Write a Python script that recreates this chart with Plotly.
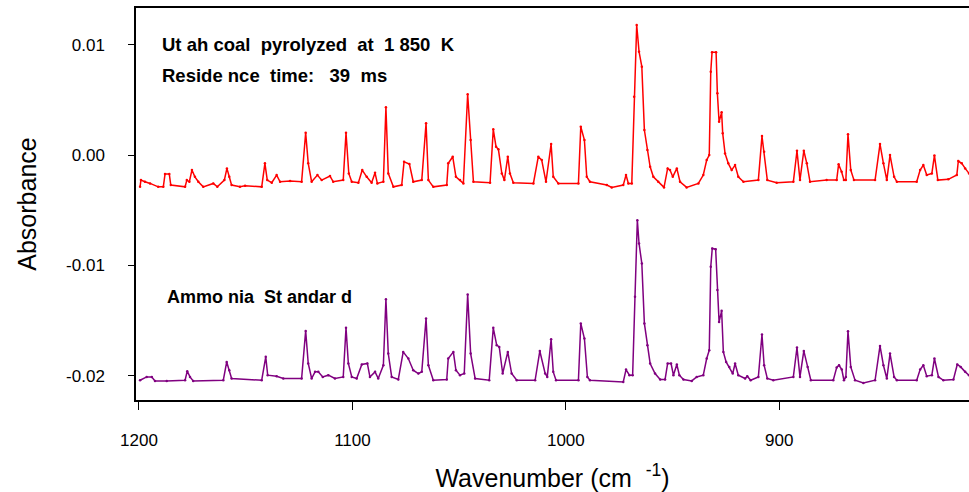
import plotly.graph_objects as go

# ---- Data ----
# Utah coal pyrolyzed at 1850 K (red trace): wavenumber (cm-1), absorbance
coal_wn = [1199.5, 1199.1, 1197.2, 1194.8, 1191.0, 1188.6, 1187.8, 1185.8, 1185.1, 1178.4,
           1177.6, 1176.4, 1175.2, 1173.8, 1172.2, 1169.9, 1165.2, 1163.3, 1160.0, 1158.8,
           1157.7, 1156.6, 1152.7, 1150.3, 1142.5, 1141.0, 1139.9, 1137.8, 1135.5, 1133.9,
           1129.2, 1123.8, 1121.9, 1120.7, 1119.1, 1116.4, 1114.4, 1110.5, 1109.0, 1104.3,
           1103.0, 1101.7, 1100.3, 1097.2, 1095.4, 1093.3, 1091.0, 1089.4, 1088.3, 1085.5,
           1084.3, 1083.2, 1080.8, 1076.9, 1075.8, 1073.3, 1071.5, 1067.5, 1065.5, 1064.4,
           1062.1, 1055.8, 1055.1, 1053.0, 1051.5, 1049.6, 1048.0, 1046.0, 1044.6, 1043.3,
           1035.5, 1034.0, 1032.7, 1031.6, 1030.0, 1028.8, 1027.2, 1026.2, 1024.6, 1015.2,
           1012.9, 1011.3, 1009.3, 1006.9, 1005.9, 1003.5, 994.1, 993.0, 991.3, 990.2,
           988.7, 980.8, 978.5, 973.1, 971.8, 970.7, 969.1, 968.0, 966.8, 965.7,
           964.4, 963.2, 961.8, 960.5, 959.0, 956.7, 954.0, 952.3, 951.2, 949.9,
           948.0, 946.5, 943.4, 937.9, 935.6, 934.0, 932.8, 932.1, 931.5, 929.6,
           929.0, 928.2, 927.0, 926.5, 925.4, 923.9, 922.3, 920.7, 919.2, 916.8,
           909.8, 908.1, 907.1, 905.6, 901.2, 893.4, 891.7, 890.3, 888.5, 887.1,
           885.6, 877.8, 873.1, 872.2, 870.8, 869.7, 868.8, 867.8, 866.5, 865.0,
           855.1, 852.8, 851.2, 849.6, 848.1, 846.2, 844.9, 835.6, 834.0, 832.5,
           830.9, 828.5, 827.3, 825.7, 820.8, 816.8, 816.1, 814.5, 812.9, 811.1]
coal_abs = [-0.00288, -0.00227, -0.00242, -0.00257, -0.00288, -0.00288, -0.00172, -0.00172, -0.00272, -0.00288,
            -0.00227, -0.00242, -0.00136, -0.00197, -0.00242, -0.00288, -0.00257, -0.00288, -0.00227, -0.00121,
            -0.00197, -0.00272, -0.00288, -0.00278, -0.00288, -0.00075, -0.00227, -0.00251, -0.00181, -0.00242,
            -0.00236, -0.00242, 0.00202, -0.00075, -0.00242, -0.00181, -0.00227, -0.00190, -0.00242, -0.00227,
            0.00202, -0.00166, -0.00242, -0.00251, -0.00136, -0.00197, -0.00251, -0.00161, -0.00257, -0.00242,
            0.00433, -0.00166, -0.00288, -0.00272, -0.00061, -0.00082, -0.00242, -0.00227, 0.00288, -0.00227,
            -0.00288, -0.00272, -0.00075, -0.00015, -0.00197, -0.00227, -0.00257, 0.00551, 0.00136, -0.00242,
            -0.00251, 0.00233, 0.00075, 0.00052, -0.00166, -0.00227, -0.00015, -0.00166, -0.00251, -0.00257,
            -0.00015, -0.00045, -0.00242, 0.00100, -0.00197, -0.00257, -0.00257, 0.00257, 0.00136, -0.00197,
            -0.00242, -0.00272, -0.00293, -0.00272, -0.00181, -0.00257, -0.00257, 0.00529, 0.01179, 0.00937,
            0.00801, 0.00227, 0.00045, -0.00106, -0.00197, -0.00242, -0.00293, -0.00121, -0.00136, -0.00197,
            -0.00121, -0.00242, -0.00293, -0.00257, -0.00181, -0.00045, 0.00000, 0.00756, 0.00931, 0.00931,
            0.00560, 0.00302, 0.00387, 0.00197, 0.00015, -0.00075, -0.00136, -0.00091, -0.00197, -0.00242,
            -0.00227, 0.00172, 0.00030, -0.00227, -0.00251, -0.00242, 0.00039, -0.00227, 0.00039, -0.00075,
            -0.00242, -0.00227, -0.00227, -0.00084, -0.00151, -0.00227, -0.00227, 0.00188, -0.00136, -0.00227,
            -0.00227, 0.00100, -0.00075, -0.00227, 0.00000, -0.00197, -0.00242, -0.00242, -0.00136, -0.00091,
            -0.00181, -0.00166, -0.00003, -0.00227, -0.00220, -0.00181, -0.00054, -0.00075, -0.00121, -0.00166]

# Ammonia standard (purple trace)
nh3_wn = [1199.5, 1196.4, 1194.0, 1192.5, 1187.0, 1178.4, 1177.4, 1176.1, 1174.6, 1160.5,
          1158.9, 1157.7, 1156.6, 1142.5, 1140.6, 1139.7, 1135.5, 1132.4, 1123.8, 1121.9,
          1120.7, 1119.1, 1117.5, 1116.0, 1113.9, 1111.3, 1108.2, 1104.3, 1103.0, 1101.9,
          1100.3, 1098.0, 1095.6, 1093.0, 1091.8, 1089.4, 1087.9, 1085.5, 1084.3, 1083.2,
          1081.6, 1078.5, 1076.2, 1073.8, 1071.5, 1069.1, 1067.5, 1065.5, 1064.4, 1062.1,
          1055.8, 1055.1, 1052.7, 1051.5, 1049.6, 1047.6, 1046.0, 1044.6, 1042.5, 1035.9,
          1034.0, 1032.4, 1031.2, 1029.6, 1027.2, 1025.4, 1023.0, 1014.4, 1012.2, 1009.7,
          1008.7, 1006.9, 1005.9, 1004.6, 994.1, 993.0, 991.3, 989.9, 988.7, 973.1,
          971.8, 970.2, 968.7, 967.6, 966.5, 965.7, 964.4, 963.2, 961.8, 960.5,
          958.2, 955.8, 953.5, 952.3, 950.7, 949.6, 948.0, 946.8, 944.9, 941.0,
          938.7, 935.6, 934.0, 932.8, 932.1, 931.4, 929.8, 929.0, 928.2, 927.0,
          926.2, 924.9, 923.4, 921.8, 920.7, 919.2, 916.0, 915.0, 913.4, 909.8,
          908.1, 907.1, 905.6, 902.8, 893.4, 891.7, 890.3, 888.5, 886.7, 885.2,
          874.7, 873.1, 872.0, 870.7, 869.7, 868.8, 867.8, 866.5, 864.5, 860.6,
          855.1, 852.8, 851.2, 849.6, 848.1, 846.2, 844.9, 835.6, 834.0, 832.5,
          830.9, 828.5, 827.3, 825.4, 823.1, 818.4, 816.6, 815.0, 812.9, 811.1]
nh3_abs = [-0.02041, -0.02011, -0.02011, -0.02047, -0.02047, -0.02041, -0.01959, -0.02011, -0.02047, -0.02041,
           -0.01875, -0.01950, -0.02025, -0.02041, -0.01829, -0.01995, -0.02004, -0.02025, -0.02025, -0.01594,
           -0.01889, -0.02025, -0.01965, -0.01965, -0.02011, -0.01995, -0.02025, -0.02011, -0.01566, -0.01889,
           -0.02011, -0.02025, -0.01898, -0.01889, -0.02011, -0.01965, -0.02025, -0.01905, -0.01306, -0.01799,
           -0.02011, -0.02034, -0.01784, -0.01844, -0.01950, -0.01980, -0.01965, -0.01481, -0.01905, -0.02041,
           -0.02034, -0.01844, -0.01784, -0.01950, -0.01995, -0.01980, -0.01263, -0.01799, -0.02025, -0.02041,
           -0.01566, -0.01723, -0.01739, -0.01980, -0.01784, -0.01980, -0.02041, -0.02041, -0.01776, -0.01980,
           -0.02011, -0.01669, -0.01965, -0.02041, -0.02041, -0.01526, -0.01663, -0.02011, -0.02041, -0.02056,
           -0.01944, -0.01995, -0.01995, -0.01285, -0.00590, -0.00801, -0.00982, -0.01526, -0.01723, -0.01889,
           -0.01980, -0.02034, -0.02034, -0.01889, -0.01889, -0.01995, -0.01898, -0.01995, -0.02034, -0.02047,
           -0.02011, -0.01995, -0.01844, -0.01769, -0.01013, -0.00846, -0.00853, -0.01224, -0.01512, -0.01412,
           -0.01784, -0.01875, -0.01920, -0.01980, -0.01889, -0.01995, -0.02025, -0.02004, -0.02041, -0.02011,
           -0.01626, -0.01905, -0.02025, -0.02041, -0.02011, -0.01744, -0.02011, -0.01775, -0.01920, -0.02041,
           -0.02041, -0.01926, -0.01905, -0.01944, -0.02041, -0.02011, -0.01596, -0.01920, -0.02041, -0.02065,
           -0.02041, -0.01730, -0.01905, -0.02025, -0.01799, -0.02011, -0.02041, -0.02041, -0.01944, -0.01905,
           -0.02004, -0.01995, -0.01844, -0.02011, -0.02041, -0.02034, -0.01898, -0.01920, -0.01965, -0.01995]

x_tickvals = [1200, 1100, 1000, 900]
x_ticktext = ["1200", "1100", "1000", "900"]
y_tickvals = [0.01, 0.0, -0.01, -0.02]
y_ticktext = ["0.01", "0.00", "-0.01", "-0.02"]

FONT = "Liberation Sans, Arial, sans-serif"

fig = go.Figure()
fig.add_trace(go.Scatter(
    x=coal_wn, y=coal_abs, mode="lines+markers", name="Utah coal, 1850 K",
    line=dict(color="#ff0000", width=1.5), marker=dict(color="#ff0000", size=2.5),
))
fig.add_trace(go.Scatter(
    x=nh3_wn, y=nh3_abs, mode="lines+markers", name="Ammonia Standard",
    line=dict(color="#800080", width=1.5), marker=dict(color="#800080", size=2.5),
))

fig.update_layout(
    width=969, height=492,
    margin=dict(l=136, r=0, t=8, b=92),
    paper_bgcolor="white", plot_bgcolor="white",
    showlegend=False,
    font=dict(family=FONT, color="black"),
    xaxis=dict(
        range=[1201.4, 811.1], tickvals=x_tickvals, ticktext=x_ticktext,
        showgrid=False, zeroline=False,
        showline=True, linecolor="black", linewidth=1.5, mirror=True,
        ticks="outside", ticklen=8, tickwidth=1.2, tickcolor="black",
        tickfont=dict(size=17), ticklabelstandoff=16,
        title=dict(text="Wavenumber (cm  <sup>-1</sup>)", font=dict(size=25), standoff=22),
    ),
    yaxis=dict(
        range=[-0.0222, 0.01333], tickvals=y_tickvals, ticktext=y_ticktext,
        showgrid=False, zeroline=False,
        showline=True, linecolor="black", linewidth=1.5,
        ticks="outside", ticklen=6, tickwidth=1.2, tickcolor="black",
        tickfont=dict(size=17), ticklabelstandoff=20,
        title=dict(text="Absorbance", font=dict(size=25), standoff=22),
    ),
    annotations=[
        dict(text="Ut ah coal  pyrolyzed  at  1 850  K", xref="paper", yref="paper",
             x=0.029, y=0.906, xanchor="left", yanchor="middle", showarrow=False,
             font=dict(size=18.5, family=FONT, color="black", weight="bold")),
        dict(text="Reside nce  time:   39  ms", xref="paper", yref="paper",
             x=0.029, y=0.829, xanchor="left", yanchor="middle", showarrow=False,
             font=dict(size=18.5, family=FONT, color="black", weight="bold")),
        dict(text="Ammo nia  St andar d", xref="paper", yref="paper",
             x=0.035, y=0.263, xanchor="left", yanchor="middle", showarrow=False,
             font=dict(size=18, family=FONT, color="black", weight="bold")),
    ],
)

fig.write_html("out.html")
